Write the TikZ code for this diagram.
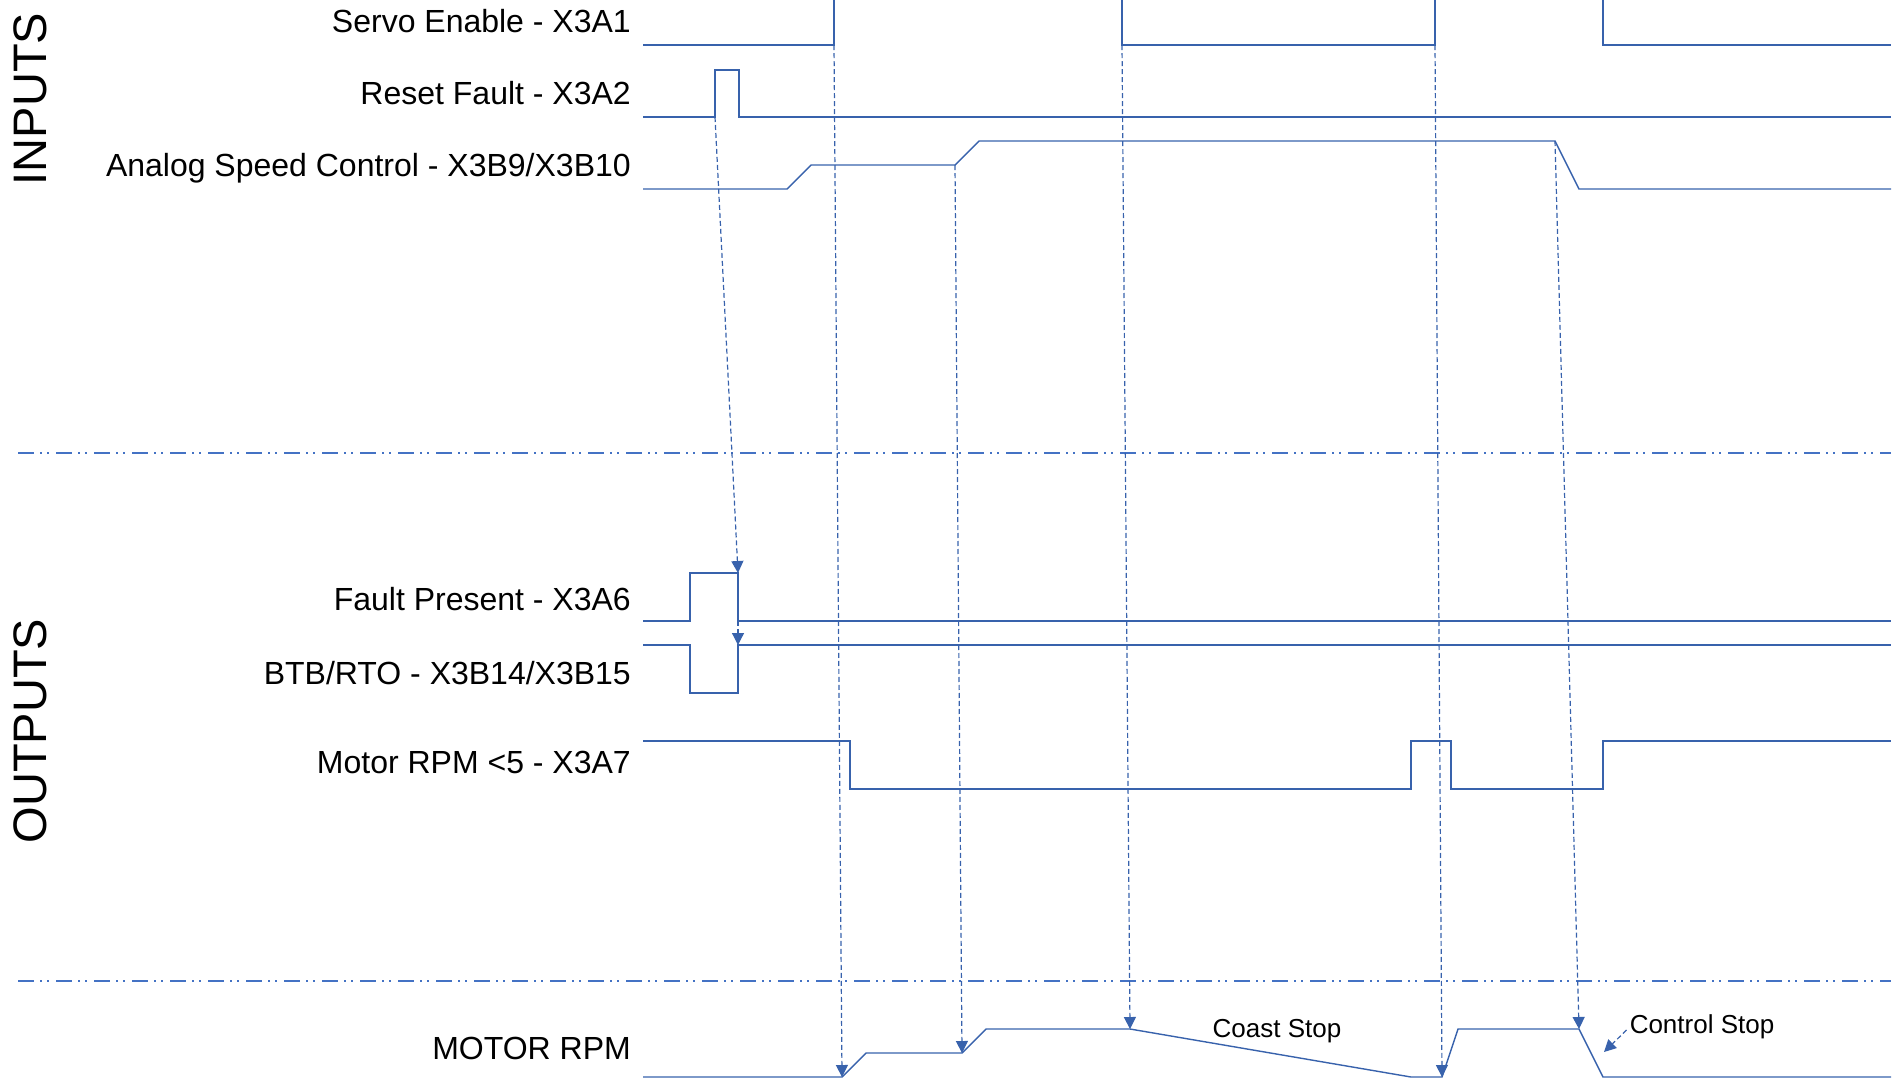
\documentclass[tikz,border=0pt]{standalone}
\usepackage{fontspec}
\setmainfont{Liberation Sans}
\usetikzlibrary{arrows.meta}
\definecolor{sigblue}{RGB}{56,98,172}
\definecolor{sepblue}{RGB}{68,114,196}

\begin{document}
\begin{tikzpicture}[x=1pt,y=-1pt,>={Triangle[width=12pt,length=12pt]},
  wave/.style={sigblue,line width=1.4pt,line join=miter},
  sep/.style={sepblue,line width=1.4pt,dash pattern=on 16pt off 6pt on 2pt off 5pt on 2pt off 7pt},
  link/.style={->,sigblue,line width=1.2pt,dash pattern=on 5pt off 3pt},
  sig label/.style={anchor=base east,inner sep=0pt,font=\fontsize{32}{38}\selectfont},
  side label/.style={rotate=90,inner sep=0pt,font=\fontsize{47}{52}\selectfont},
  note/.style={anchor=base,inner sep=0pt,font=\fontsize{26}{30}\selectfont}]
            \useasboundingbox (0,0) rectangle (1902,1080);

            % group titles
            \node[side label] (inputs) at (30,99) {INPUTS};
            \node[side label] (outputs) at (30,731) {OUTPUTS};

            % signal names
            \node[sig label] (sen) at (631,32) {Servo Enable - X3A1};
            \node[sig label] (rst) at (631,104) {Reset Fault - X3A2};
            \node[sig label] (asc) at (631,176) {Analog Speed Control - X3B9/X3B10};
            \node[sig label] (flt) at (631,610) {Fault Present - X3A6};
            \node[sig label] (btb) at (631,684) {BTB/RTO - X3B14/X3B15};
            \node[sig label] (rpm5) at (631,773) {Motor RPM <5 - X3A7};
            \node[sig label] (rpm) at (631,1059) {MOTOR RPM};

            \node[note] (coast) at (1277,1037) {Coast Stop};
            \node[note] (cstop) at (1702,1033) {Control Stop};
            \coordinate (cs) at (1604,1052);

            % inputs
            \draw[wave] (643,45) -- (834,45) coordinate (se1) -- (834,0);
            \draw[wave] (1122,0) -- (1122,45) coordinate (se2) -- (1435,45) coordinate (se3) -- (1435,0);
            \draw[wave] (1603,0) -- (1603,45) -- (1891,45);
            \draw[wave] (643,117) -- (715,117) coordinate (rf1) -- (715,70) -- (739,70) -- (739,117) -- (1891,117);
            \draw[wave] (643,189) -- (787,189) -- (811,165) -- (955,165) coordinate (as1) -- (979,141)
                -- (1555,141) coordinate (as2) -- (1579,189) -- (1891,189);

            \draw[sep] (18,453) -- (1891,453);

            % outputs
            \draw[wave] (643,621) -- (690,621) -- (690,573) -- (738,573) coordinate (fp1) -- (738,621) coordinate (fp2) -- (1891,621);
            \draw[wave] (643,645) -- (690,645) -- (690,693) -- (738,693) -- (738,645) coordinate (bt1) -- (1891,645);
            \draw[wave] (643,741) -- (850,741) -- (850,789) -- (1411,789) -- (1411,741) -- (1451,741)
                -- (1451,789) -- (1603,789) -- (1603,741) -- (1891,741);

            \draw[sep] (18,981) -- (1891,981);

            % motor speed
            \draw[wave] (643,1077) -- (842,1077) coordinate (mr1) -- (866,1053) -- (962,1053) coordinate (mr2)
                -- (986,1029) -- (1130,1029) coordinate (mr3) -- (1411,1077) -- (1442,1077) coordinate (mr4)
                -- (1458,1029) -- (1579,1029) coordinate (mr5) -- (1603,1077) -- (1891,1077);

            \path[link]
                (rf1) edge (fp1)
                (fp2) edge (bt1)
                (se1) edge (mr1)
                (as1) edge (mr2)
                (se2) edge (mr3)
                (se3) edge (mr4)
                (as2) edge (mr5)
                ([shift={(-3,-3)}]cstop.base west) edge (cs)
                ;
\end{tikzpicture}
\end{document}
